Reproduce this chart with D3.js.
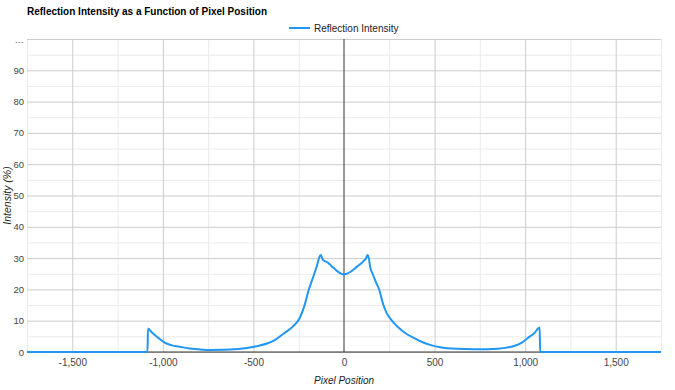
<!DOCTYPE html>
<html>
<head>
<meta charset="utf-8">
<script src="https://cdn.jsdelivr.net/npm/d3@7"></script>
<style>
  html, body { margin: 0; padding: 0; background: #fff; }
  svg { display: block; font-family: Arial, "Liberation Sans", sans-serif; }
</style>
</head>
<body>
<svg id="chart" width="675" height="390"></svg>
<script>
const chartTitle = "Reflection Intensity as a Function of Pixel Position";
const seriesName = "Reflection Intensity";
const xTitle = "Pixel Position";
const yTitle = "Intensity (%)";

const pixelPosition = [
  -1750, -1085, -1082, -1060, -1027, -990, -954, -900, -862, -800, -733, -670, -605, -560, -513, -470, -421, -380, -330, -283, -245, -220, -195, -164, -150, -136, -128, -118, -105, -90, -70, -50, -30, -15,
  0, 15, 30, 50, 70, 94, 110, 121, 130, 137, 145, 158, 175, 195, 215, 235, 259, 280, 296, 340, 388, 430, 480, 530, 572, 620, 718, 780, 847, 900, 939, 980, 1013, 1050, 1080, 1083, 1750
];
const intensity = [
  0, 0, 7.5, 6.2, 4.6, 3.0, 2.2, 1.6, 1.2, 0.85, 0.65, 0.7, 0.85, 1.1, 1.5, 2.0, 2.8, 3.9, 6.0, 8.1, 10.8, 14.5, 19.8, 25, 27.5, 30.3, 31, 29.6, 29, 28.6, 27.5, 26.5, 25.5, 25,
  24.8, 25, 25.4, 26.2, 27.2, 28.3, 29.2, 29.9, 31, 30, 27, 25, 22.5, 19.8, 15.5, 12.5, 10.4, 9, 8.1, 6, 4.4, 3.2, 2.2, 1.5, 1.2, 1.0, 0.85, 0.9, 1.06, 1.4, 1.9, 2.9, 4.4, 6.0, 7.8, 0, 0
];

const xTicks = [-1500, -1000, -500, 0, 500, 1000, 1500];
const xMinorTicks = [-1750, -1250, -750, -250, 250, 750, 1250, 1750];
const yTicks = [0, 10, 20, 30, 40, 50, 60, 70, 80, 90, 100];
const yMinorTicks = [5, 15, 25, 35, 45, 55, 65, 75, 85, 95];
const yTickLabels = ["0", "10", "20", "30", "40", "50", "60", "70", "80", "90", "\u2026"];

const W = 675, H = 390;
const margin = { left: 27, right: 14, top: 39, bottom: 38 };
const svg = d3.select("#chart");
const FONT = "Arial, 'Liberation Sans', sans-serif";

const x = d3.scaleLinear().domain([-1750, 1750]).range([margin.left, W - margin.right]);
const y = d3.scaleLinear().domain([0, 100]).range([H - margin.bottom, margin.top]);

const data = pixelPosition.map((p, i) => ({ p, v: intensity[i] }));
const fmt = d3.formatLocale({ decimal: ".", thousands: ",", grouping: [3], currency: ["", ""], minus: "-" }).format(",");

// minor gridlines
svg.append("g")
  .attr("transform", `translate(0,${H - margin.bottom})`)
  .call(d3.axisBottom(x).tickValues(xMinorTicks).tickSize(-(H - margin.top - margin.bottom)).tickFormat(""))
  .call(g => g.select(".domain").remove())
  .call(g => g.selectAll("line").attr("stroke", "#ebebeb"));
svg.append("g")
  .attr("transform", `translate(${margin.left},0)`)
  .call(d3.axisLeft(y).tickValues(yMinorTicks).tickSize(-(W - margin.left - margin.right)).tickFormat(""))
  .call(g => g.select(".domain").remove())
  .call(g => g.selectAll("line").attr("stroke", "#ebebeb"));

// major gridlines
svg.append("g")
  .attr("transform", `translate(0,${H - margin.bottom})`)
  .call(d3.axisBottom(x).tickValues(xTicks.filter(t => t !== 0)).tickSize(-(H - margin.top - margin.bottom)).tickFormat(""))
  .call(g => g.select(".domain").remove())
  .call(g => g.selectAll("line").attr("stroke", "#cccccc"));
svg.append("g")
  .attr("transform", `translate(${margin.left},0)`)
  .call(d3.axisLeft(y).tickValues(yTicks).tickSize(-(W - margin.left - margin.right)).tickFormat(""))
  .call(g => g.select(".domain").remove())
  .call(g => g.selectAll("line").attr("stroke", "#cccccc"));

// zero baselines
svg.append("line")
  .attr("x1", x(0)).attr("x2", x(0))
  .attr("y1", y(100)).attr("y2", y(0))
  .attr("stroke", "#333333").attr("stroke-width", 1);
svg.append("line")
  .attr("x1", x(-1750)).attr("x2", x(1750))
  .attr("y1", y(0)).attr("y2", y(0))
  .attr("stroke", "#333333").attr("stroke-width", 1);

// x tick labels
svg.append("g")
  .attr("transform", `translate(0,${H - margin.bottom})`)
  .call(d3.axisBottom(x).tickValues(xTicks).tickSize(0).tickPadding(7).tickFormat(fmt))
  .call(g => g.select(".domain").remove())
  .call(g => g.selectAll("text").attr("fill", "#444").attr("font-size", 10).attr("font-family", FONT));

// y tick labels
svg.append("g")
  .attr("transform", `translate(${margin.left},0)`)
  .call(d3.axisLeft(y).tickValues(yTicks).tickSize(0).tickPadding(3).tickFormat((d, i) => yTickLabels[i]))
  .call(g => g.select(".domain").remove())
  .call(g => g.selectAll("text").attr("fill", "#444").attr("font-size", 9.5).attr("font-family", FONT));

// line
const line = d3.line().x(d => x(d.p)).y(d => y(d.v)).curve(d3.curveMonotoneX);
svg.append("path")
  .datum(data)
  .attr("fill", "none")
  .attr("stroke", "#2196F3")
  .attr("stroke-width", 2)
  .attr("stroke-linejoin", "round")
  .attr("d", line);

// title
svg.append("text")
  .attr("x", 27).attr("y", 15)
  .attr("font-size", 10).attr("font-weight", "bold").attr("fill", "#000")
  .text(chartTitle);

// legend
svg.append("line")
  .attr("x1", 289).attr("x2", 310).attr("y1", 28).attr("y2", 28)
  .attr("stroke", "#2196F3").attr("stroke-width", 2);
svg.append("text")
  .attr("x", 314).attr("y", 32)
  .attr("font-size", 10).attr("fill", "#222")
  .text(seriesName);

// axis titles
svg.append("text")
  .attr("x", x(0)).attr("y", 384)
  .attr("text-anchor", "middle")
  .attr("font-size", 10).attr("font-style", "italic").attr("fill", "#222")
  .text(xTitle);
svg.append("text")
  .attr("transform", `translate(10.5,${(y(0) + y(100)) / 2}) rotate(-90)`)
  .attr("text-anchor", "middle")
  .attr("font-size", 10.5).attr("font-style", "italic").attr("fill", "#222")
  .text(yTitle);
</script>
</body>
</html>
